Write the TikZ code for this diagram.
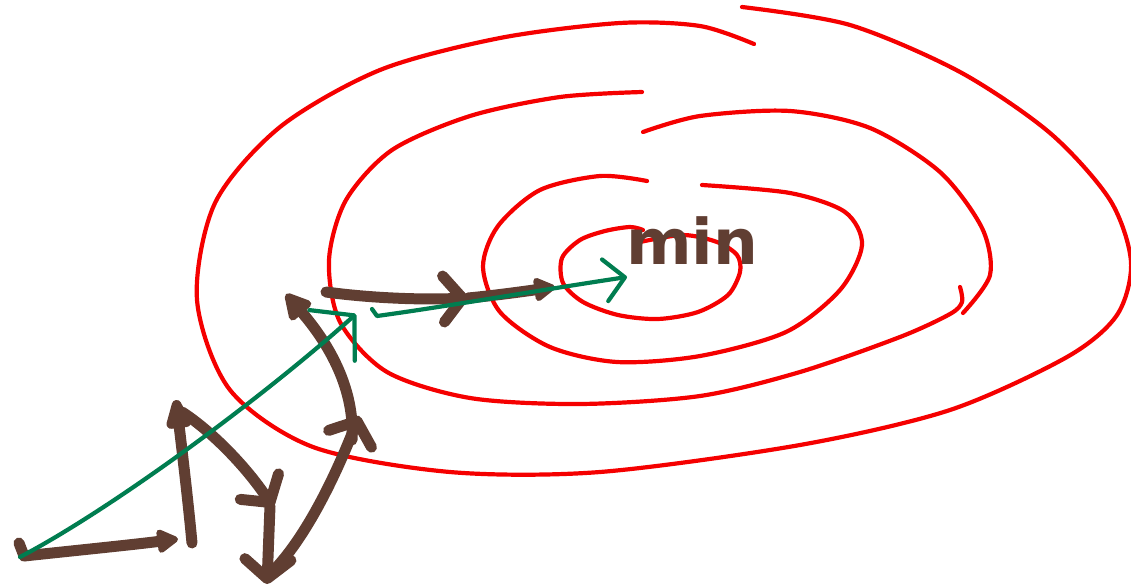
\documentclass[tikz,border=0pt]{standalone}
\usepackage{fontspec}
\newfontfamily\handfont{DejaVu Sans}
\usetikzlibrary{arrows.meta}
\definecolor{brn}{RGB}{96,62,50}
\definecolor{grn}{RGB}{0,125,80}
\definecolor{rd}{RGB}{245,0,0}
\begin{document}
\begin{tikzpicture}[x=1pt,y=-1pt,
  redline/.style={draw=rd, line width=4.2pt, line cap=round, line join=round},
  brownline/.style={draw=brn, line width=11pt, line cap=round, line join=round},
  greenline/.style={draw=grn, line width=4.2pt, line cap=round, line join=round},
  openhead/.style={-{Triangle[round, length=24pt, width=26pt]}},
  bighead/.style={-{Triangle[round, length=30pt, width=30pt]}},
  narrowhead/.style={-{Triangle[round, length=38pt, width=26pt]}},
  barbhead/.style={-{Straight Barb[round, length=19pt, width=46pt]}},
  greenhead/.style={-{Straight Barb[round, length=30pt, width=68pt]}},
  greensmall/.style={-{Straight Barb[round, length=20pt, width=42pt]}}
]
\useasboundingbox (0,0) rectangle (1131,586);

% red contour lines
\draw[redline] plot[smooth] coordinates {(742,7) (850,25) (960,72) (1050,133) (1110,200) (1131,262) (1117,315) (1067,357) (950,410) (800,445) (600,472) (450,472) (313,447) (230,390) (197,300) (215,203) (280,127) (380,70) (500,38) (620,23) (700,26) (754,44)};
\draw[redline] plot[smooth] coordinates {(642,92) (560,97) (470,116) (392,150) (346,200) (329,260) (340,322) (387,372) (470,398) (580,404) (700,396) (800,372) (900,337) (950,314) (962,302) (960,287)};
\draw[redline] plot[smooth] coordinates {(643,132) (700,116) (790,111) (870,128) (940,172) (982,228) (990,275) (963,313)};
\draw[redline] plot[smooth] coordinates {(647,181) (600,176) (540,190) (498,226) (483,267) (500,312) (550,347) (617,362) (700,356) (786,332) (840,290) (862,245) (845,212) (790,193) (702,185)};
\draw[redline] plot[smooth] coordinates {(640,242) (683,235) (717,242) (737,255) (740,272) (728,295) (698,312) (658,319) (618,315) (583,302) (563,283) (562,258) (580,240) (605,231) (630,227) (643,230)};

% label
\node[text=brn, font=\handfont\bfseries\fontsize{63}{63}\selectfont, anchor=base west, inner sep=0pt] (minlabel) at (626,264) {min};

% named points
\coordinate (s0) at (24,556);
\coordinate (s0top) at (19,543);
\coordinate (s1) at (178,539);
\coordinate (s2a) at (192,543);
\coordinate (s2) at (176,400);
\coordinate (s3a) at (182,412);
\coordinate (s3) at (273,507);
\coordinate (s4a) at (270,506);
\coordinate (s4) at (267,584);
\coordinate (s5a) at (270,574);
\coordinate (s5) at (359,416);
\coordinate (s6a) at (352,440);
\coordinate (s6) at (286,294);
\coordinate (s7a) at (326,292);
\coordinate (s7) at (468,298);
\coordinate (s8) at (555,287);
\coordinate (g0) at (20,557);
\coordinate (g1) at (356,314);
\coordinate (g2a) at (372,309);
\coordinate (g2b) at (377,316);
\coordinate (g2) at (627,277);

% brown steps
\draw[brownline] (s0top) -- (s0);
\draw[brownline, openhead] (s0) .. controls (80,550) and (130,545) .. (s1);
\draw[brownline, narrowhead] (s2a) .. controls (188,500) and (182,450) .. (s2);
\draw[brownline, barbhead] (s3a) .. controls (210,430) and (245,465) .. (s3);
\draw[brownline, barbhead] (s4a) -- (s4);
\draw[brownline, barbhead] (s5a) .. controls (300,545) and (330,490) .. (s5);
\draw[brownline, bighead] (s6a) .. controls (355,390) and (330,345) .. (s6);
\draw[brownline, barbhead] (s7a) .. controls (370,298) and (420,300) .. (s7);
\draw[brownline, openhead] (s7) .. controls (490,296) and (520,292) .. (s8);

% green path
\draw[greenline, greenhead] (g0) .. controls (110,510) and (260,400) .. (g1);
\draw[greenline, greensmall] (g2a) -- (g2b) .. controls (450,306) and (540,290) .. (g2);
\end{tikzpicture}
\end{document}
